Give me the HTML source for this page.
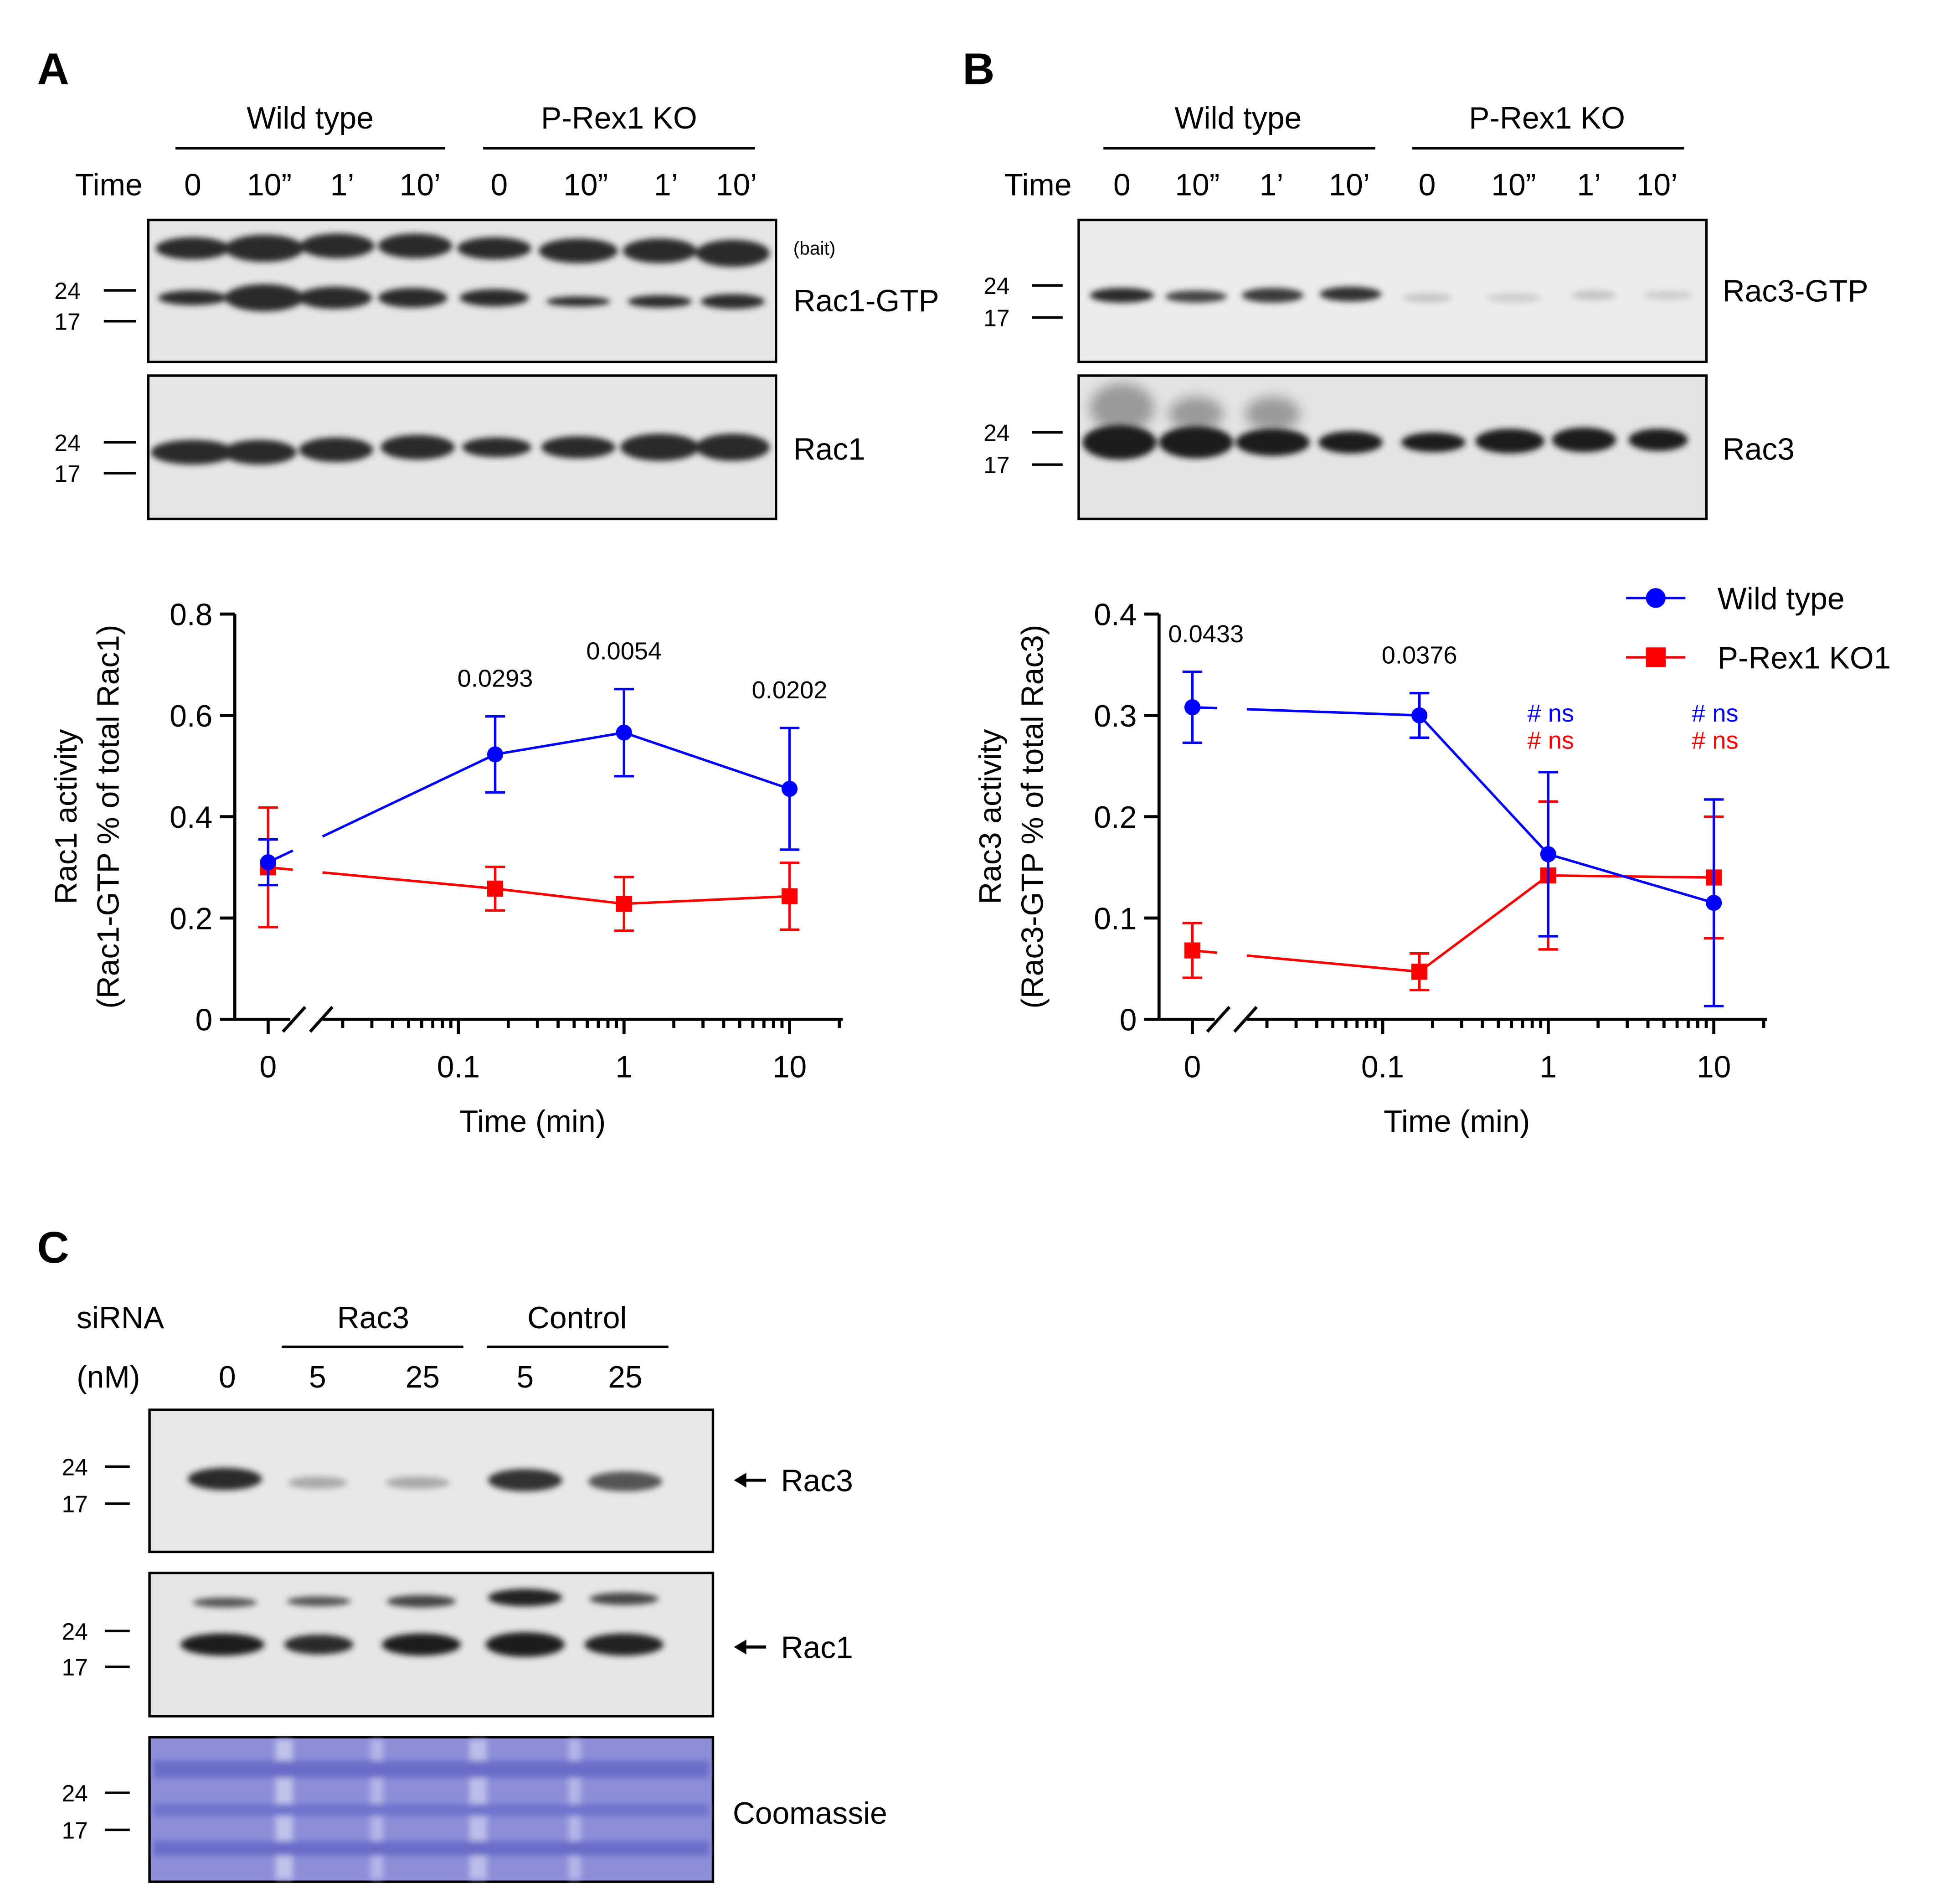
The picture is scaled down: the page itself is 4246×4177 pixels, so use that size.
<!DOCTYPE html>
<html><head><meta charset="utf-8"><style>
html,body{margin:0;padding:0;background:#fff}
svg{display:block}
text{font-family:"Liberation Sans",sans-serif;fill:#000}
</style></head><body>
<svg id="fig" width="4246" height="4177" viewBox="0 0 1566 1541" preserveAspectRatio="none" xmlns="http://www.w3.org/2000/svg">
<defs>
<filter id="bl" x="-20%" y="-100%" width="140%" height="300%"><feGaussianBlur stdDeviation="2.5"/></filter>
<filter id="bl2" x="-20%" y="-100%" width="140%" height="300%"><feGaussianBlur stdDeviation="5"/></filter>
</defs>
<g>
<text x="30" y="68" font-size="36" font-weight="bold">A</text>
<text x="251" y="104" font-size="25" text-anchor="middle">Wild type</text>
<line x1="142" y1="120" x2="360" y2="120" stroke="#000" stroke-width="2"/>
<text x="501" y="104" font-size="25" text-anchor="middle">P-Rex1 KO</text>
<line x1="391" y1="120" x2="611" y2="120" stroke="#000" stroke-width="2"/>
<g font-size="25" text-anchor="middle">
<text x="88" y="158">Time</text><text x="156" y="158">0</text><text x="218" y="158">10”</text><text x="277" y="158">1’</text><text x="340" y="158">10’</text><text x="404" y="158">0</text><text x="474" y="158">10”</text><text x="539" y="158">1’</text><text x="596" y="158">10’</text></g>
<rect x="120" y="178" width="508" height="115" fill="#e6e6e6" stroke="#000" stroke-width="2"/>
<g filter="url(#bl)" fill="#2a2a2a">
<ellipse cx="156" cy="201" rx="30" ry="9"/><ellipse cx="214" cy="201" rx="32" ry="11"/><ellipse cx="273" cy="199" rx="30" ry="10"/><ellipse cx="336" cy="199" rx="30" ry="10"/><ellipse cx="400" cy="201" rx="30" ry="9"/><ellipse cx="468" cy="203" rx="32" ry="10"/><ellipse cx="534" cy="203" rx="30" ry="10"/><ellipse cx="593" cy="205" rx="30" ry="11"/>
<ellipse cx="156" cy="241" rx="28" ry="6"/><ellipse cx="214" cy="241" rx="32" ry="11"/><ellipse cx="271" cy="241" rx="30" ry="9"/><ellipse cx="334" cy="241" rx="28" ry="8"/><ellipse cx="400" cy="241" rx="28" ry="7"/><ellipse cx="468" cy="244" rx="26" ry="4"/><ellipse cx="534" cy="244" rx="26" ry="5"/><ellipse cx="593" cy="244" rx="26" ry="6"/></g>
<rect x="120" y="304" width="508" height="116" fill="#e6e6e6" stroke="#000" stroke-width="2"/>
<g filter="url(#bl)" fill="#2a2a2a">
<ellipse cx="156" cy="366" rx="34" ry="10"/><ellipse cx="210" cy="366" rx="30" ry="10"/><ellipse cx="272" cy="364" rx="30" ry="10"/><ellipse cx="338" cy="362" rx="30" ry="10"/><ellipse cx="402" cy="362" rx="28" ry="8"/><ellipse cx="468" cy="362" rx="30" ry="9"/><ellipse cx="534" cy="362" rx="32" ry="11"/><ellipse cx="593" cy="362" rx="30" ry="11"/></g>
<g font-size="19"><text x="44" y="242">24</text><text x="44" y="267">17</text><text x="44" y="365">24</text><text x="44" y="390">17</text></g>
<g stroke="#000" stroke-width="2"><line x1="84" y1="235" x2="110" y2="235"/><line x1="84" y1="260" x2="110" y2="260"/><line x1="84" y1="358" x2="110" y2="358"/><line x1="84" y1="383" x2="110" y2="383"/></g>
<text x="642" y="206" font-size="15">(bait)</text>
<text x="642" y="252" font-size="25">Rac1-GTP</text>
<text x="642" y="372" font-size="25">Rac1</text>
</g>
<g>
<text x="779" y="68" font-size="36" font-weight="bold">B</text>
<text x="1002" y="104" font-size="25" text-anchor="middle">Wild type</text>
<line x1="893" y1="120" x2="1113" y2="120" stroke="#000" stroke-width="2"/>
<text x="1252" y="104" font-size="25" text-anchor="middle">P-Rex1 KO</text>
<line x1="1143" y1="120" x2="1363" y2="120" stroke="#000" stroke-width="2"/>
<g font-size="25" text-anchor="middle">
<text x="840" y="158">Time</text><text x="908" y="158">0</text><text x="969" y="158">10”</text><text x="1029" y="158">1’</text><text x="1092" y="158">10’</text><text x="1155" y="158">0</text><text x="1225" y="158">10”</text><text x="1286" y="158">1’</text><text x="1341" y="158">10’</text></g>
<rect x="873" y="178" width="508" height="115" fill="#ececec" stroke="#000" stroke-width="2"/>
<g filter="url(#bl)">
<ellipse cx="908" cy="239" rx="26" ry="6" fill="#2a2a2a"/><ellipse cx="968" cy="240" rx="25" ry="5" fill="#444"/><ellipse cx="1030" cy="239" rx="25" ry="6" fill="#3a3a3a"/><ellipse cx="1093" cy="238" rx="25" ry="6" fill="#333"/>
<ellipse cx="1155" cy="241" rx="20" ry="4" fill="#c8c8c8"/><ellipse cx="1225" cy="241" rx="22" ry="4" fill="#cfcfcf"/><ellipse cx="1290" cy="239" rx="18" ry="4" fill="#c4c4c4"/><ellipse cx="1350" cy="239" rx="20" ry="4" fill="#cfcfcf"/></g>
<rect x="873" y="304" width="508" height="116" fill="#e4e4e4" stroke="#000" stroke-width="2"/>
<g filter="url(#bl2)" fill="#9a9a9a"><ellipse cx="908" cy="330" rx="26" ry="20"/><ellipse cx="968" cy="335" rx="22" ry="14"/><ellipse cx="1030" cy="335" rx="22" ry="14"/></g>
<g filter="url(#bl)" fill="#1e1e1e">
<ellipse cx="906" cy="358" rx="30" ry="14"/><ellipse cx="968" cy="358" rx="30" ry="13"/><ellipse cx="1030" cy="358" rx="30" ry="11"/><ellipse cx="1093" cy="358" rx="26" ry="9"/><ellipse cx="1160" cy="358" rx="26" ry="8"/><ellipse cx="1222" cy="357" rx="28" ry="10"/><ellipse cx="1282" cy="356" rx="26" ry="10"/><ellipse cx="1342" cy="356" rx="24" ry="9"/></g>
<g font-size="19"><text x="796" y="238">24</text><text x="796" y="264">17</text><text x="796" y="357">24</text><text x="796" y="383">17</text></g>
<g stroke="#000" stroke-width="2"><line x1="835" y1="231" x2="860" y2="231"/><line x1="835" y1="257" x2="860" y2="257"/><line x1="835" y1="350" x2="860" y2="350"/><line x1="835" y1="376" x2="860" y2="376"/></g>
<text x="1394" y="244" font-size="25">Rac3-GTP</text>
<text x="1394" y="372" font-size="25">Rac3</text>
</g>
<g>
<text x="30" y="1022" font-size="36" font-weight="bold">C</text>
<text x="62" y="1075" font-size="25">siRNA</text>
<text x="62" y="1123" font-size="25">(nM)</text>
<text x="302" y="1075" font-size="25" text-anchor="middle">Rac3</text>
<line x1="228" y1="1090" x2="375" y2="1090" stroke="#000" stroke-width="2"/>
<text x="467" y="1075" font-size="25" text-anchor="middle">Control</text>
<line x1="394" y1="1090" x2="541" y2="1090" stroke="#000" stroke-width="2"/>
<g font-size="25" text-anchor="middle"><text x="184" y="1123">0</text><text x="257" y="1123">5</text><text x="342" y="1123">25</text><text x="425" y="1123">5</text><text x="506" y="1123">25</text></g>
<rect x="121" y="1141" width="456" height="115" fill="#e8e8e8" stroke="#000" stroke-width="2"/>
<g filter="url(#bl)"><ellipse cx="182" cy="1197" rx="30" ry="9" fill="#2a2a2a"/><ellipse cx="257" cy="1200" rx="24" ry="5" fill="#aaa"/><ellipse cx="338" cy="1200" rx="26" ry="5" fill="#aaa"/><ellipse cx="425" cy="1198" rx="30" ry="9" fill="#333"/><ellipse cx="506" cy="1199" rx="30" ry="8" fill="#555"/></g>
<rect x="121" y="1273" width="456" height="116" fill="#e6e6e6" stroke="#000" stroke-width="2"/>
<g filter="url(#bl)"><ellipse cx="182" cy="1297" rx="26" ry="4" fill="#555"/><ellipse cx="258" cy="1296" rx="26" ry="4" fill="#555"/><ellipse cx="341" cy="1296" rx="28" ry="5" fill="#444"/><ellipse cx="425" cy="1293" rx="30" ry="7" fill="#222"/><ellipse cx="505" cy="1294" rx="28" ry="5" fill="#444"/>
<ellipse cx="180" cy="1331" rx="34" ry="9" fill="#1e1e1e"/><ellipse cx="258" cy="1331" rx="28" ry="8" fill="#2a2a2a"/><ellipse cx="341" cy="1331" rx="32" ry="9" fill="#1e1e1e"/><ellipse cx="425" cy="1331" rx="32" ry="10" fill="#1a1a1a"/><ellipse cx="505" cy="1331" rx="32" ry="9" fill="#222"/></g>
<rect x="121" y="1406" width="456" height="117" fill="#8c8fd8" stroke="#000" stroke-width="2"/>
<g filter="url(#bl)"><rect x="223" y="1408" width="14" height="113" fill="#c0c2ec"/><rect x="300" y="1408" width="10" height="113" fill="#b4b6e8"/><rect x="380" y="1408" width="14" height="113" fill="#bcbeea"/><rect x="460" y="1408" width="10" height="113" fill="#b4b6e8"/>
<rect x="124" y="1425" width="450" height="14" fill="#6a6dc8"/><rect x="124" y="1460" width="450" height="10" fill="#7073cc"/><rect x="124" y="1490" width="450" height="12" fill="#6a6dc8"/></g>
<g font-size="19"><text x="50" y="1194">24</text><text x="50" y="1224">17</text><text x="50" y="1327">24</text><text x="50" y="1356">17</text><text x="50" y="1458">24</text><text x="50" y="1488">17</text></g>
<g stroke="#000" stroke-width="2"><line x1="85" y1="1187" x2="105" y2="1187"/><line x1="85" y1="1217" x2="105" y2="1217"/><line x1="85" y1="1320" x2="105" y2="1320"/><line x1="85" y1="1349" x2="105" y2="1349"/><line x1="85" y1="1451" x2="105" y2="1451"/><line x1="85" y1="1481" x2="105" y2="1481"/></g>
<g><line x1="600" y1="1198" x2="620" y2="1198" stroke="#000" stroke-width="2.5"/><path d="M594,1198 L604,1192 L604,1204 Z" fill="#000"/></g>
<text x="632" y="1207" font-size="25">Rac3</text>
<g><line x1="600" y1="1333" x2="620" y2="1333" stroke="#000" stroke-width="2.5"/><path d="M594,1333 L604,1327 L604,1339 Z" fill="#000"/></g>
<text x="632" y="1342" font-size="25">Rac1</text>
<text x="593" y="1476" font-size="25">Coomassie</text>
</g>
<g id="chartA"></g>
<g id="chartB"></g>
</svg>
<script>
const timesMin = [0, 0.1667, 1, 10];
const aWT = [0.31, 0.523, 0.566, 0.455];
const aWTerr = [0.045, 0.075, 0.086, 0.12];
const aKO = [0.30, 0.258, 0.228, 0.243];
const aKOerr = [0.118, 0.043, 0.053, 0.066];
const aYTicks = [0, 0.2, 0.4, 0.6, 0.8];
const aPvals = ["", "0.0293", "0.0054", "0.0202"];
const bWT = [0.308, 0.30, 0.163, 0.115];
const bWTerr = [0.035, 0.022, 0.081, 0.102];
const bKO = [0.068, 0.047, 0.142, 0.14];
const bKOerr = [0.027, 0.018, 0.073, 0.06];
const bYTicks = [0, 0.1, 0.2, 0.3, 0.4];
const bPvals = ["0.0433", "0.0376", "", ""];
const xTickLabels = ["0", "0.1", "1", "10"];
const xTickVals = [0, 0.1, 1, 10];
const NS = "http://www.w3.org/2000/svg";
function mk(parent, tag, attrs, txt) {
  const e = document.createElementNS(NS, tag);
  for (const k in attrs) e.setAttribute(k, attrs[k]);
  if (txt !== undefined) e.textContent = txt;
  parent.appendChild(e); return e;
}
function chart(g, o) {
  const X0 = o.ax, yTop = 497, yBot = 825, ymax = o.yt[o.yt.length - 1];
  const ys = v => yBot - v / ymax * (yBot - yTop);
  const xs = t => t === 0 ? o.zx : o.x01 + Math.log10(t / 0.1) * 134;
  mk(g, 'line', {x1: X0, y1: yTop, x2: X0, y2: yBot, stroke: '#000', 'stroke-width': 2.5});
  mk(g, 'line', {x1: X0, y1: yBot, x2: o.ax2, y2: yBot, stroke: '#000', 'stroke-width': 2.5});
  o.yt.forEach(v => {
    mk(g, 'line', {x1: X0 - 12, y1: ys(v), x2: X0, y2: ys(v), stroke: '#000', 'stroke-width': 2.5});
    const t = mk(g, 'text', {x: X0 - 18, y: ys(v) + 9, 'font-size': 25, 'text-anchor': 'end'}, String(v));
    
    
  });
  for (let d = -2; d <= 1; d++) for (let m = 1; m < 10; m++) {
    const t = m * Math.pow(10, d); const x = xs(t);
    if (x < o.zx + 55 || x > o.ax2) continue;
    const len = m === 1 ? 12 : 7;
    mk(g, 'line', {x1: x, y1: yBot, x2: x, y2: yBot + len, stroke: '#000', 'stroke-width': 2.5});
  }
  mk(g, 'line', {x1: o.zx, y1: yBot, x2: o.zx, y2: yBot + 12, stroke: '#000', 'stroke-width': 2.5});
  mk(g, 'rect', {x: o.zx + 18, y: yBot - 3, width: 26, height: 6, fill: '#fff'});
  mk(g, 'line', {x1: o.zx + 12, y1: yBot + 10, x2: o.zx + 30, y2: yBot - 10, stroke: '#000', 'stroke-width': 2.5});
  mk(g, 'line', {x1: o.zx + 34, y1: yBot + 10, x2: o.zx + 52, y2: yBot - 10, stroke: '#000', 'stroke-width': 2.5});
  xTickVals.forEach((v, i) => {
    const t = mk(g, 'text', {x: xs(v), y: 872, 'font-size': 25, 'text-anchor': 'middle'}, xTickLabels[i]);
    
    
  });
  const xt = mk(g, 'text', {x: o.xtx, y: 916, 'font-size': 25, 'text-anchor': 'middle'}, 'Time (min)');
  
  
  const yt = mk(g, 'text', {transform: `translate(${X0 - 128},661) rotate(-90)`, 'font-size': 25, 'text-anchor': 'middle'});
  
  
  mk(yt, 'tspan', {x: 0, y: 0}, o.yl1);
  mk(yt, 'tspan', {x: 0, y: 34}, o.yl2);
  const series = [[o.ko, o.koe, 'red', 'sq'], [o.wt, o.wte, 'blue', 'ci']];
  series.forEach(([vals, errs, col, shp]) => {
    const pts = timesMin.map((t, i) => [xs(t), ys(vals[i])]);
    const [ax, ay] = pts[0], [bx, by] = pts[1];
    const f1 = (o.zx + 20 - ax) / (bx - ax), f2 = (o.zx + 44 - ax) / (bx - ax);
    const s1 = mk(g, 'line', {x1: ax, y1: ay, x2: ax + (bx - ax) * f1, y2: ay + (by - ay) * f1, stroke: col, 'stroke-width': 2});
    
    
    const p = mk(g, 'polyline', {points: [[ax + (bx - ax) * f2, ay + (by - ay) * f2]].concat(pts.slice(1)).map(q => q.join(',')).join(' '), fill: 'none', stroke: col, 'stroke-width': 2});
    
    
    pts.forEach(([x, y], i) => {
      const y1 = ys(vals[i] + errs[i]), y2 = ys(vals[i] - errs[i]);
      const eb = mk(g, 'path', {d: `M${x},${y1}V${y2}M${x - 8},${y1}H${x + 8}M${x - 8},${y2}H${x + 8}`, stroke: col, 'stroke-width': 2, fill: 'none'});
      
      
      const m = shp === 'ci' ? mk(g, 'circle', {cx: x, cy: y, r: 6.5, fill: col}) : mk(g, 'rect', {x: x - 6.5, y: y - 6.5, width: 13, height: 13, fill: col});
      
      
    });
  });
  o.pv.forEach((s, i) => {
    if (!s) return;
    const top = ys(o.wt[i] + o.wte[i]);
    const t = mk(g, 'text', {x: xs(timesMin[i]) + (i === 0 ? 11 : 0), y: top - 24, 'font-size': 20, 'text-anchor': 'middle'}, s);
    
    
  });
}
chart(document.getElementById('chartA'), {ax: 190, ax2: 682, zx: 217, x01: 371, xtx: 431, yt: aYTicks, wt: aWT, wte: aWTerr, ko: aKO, koe: aKOerr, pv: aPvals, yl1: 'Rac1 activity', yl2: '(Rac1-GTP % of total Rac1)'});
chart(document.getElementById('chartB'), {ax: 938, ax2: 1430, zx: 965, x01: 1119, xtx: 1179, yt: bYTicks, wt: bWT, wte: bWTerr, ko: bKO, koe: bKOerr, pv: bPvals, yl1: 'Rac3 activity', yl2: '(Rac3-GTP % of total Rac3)'});
const gB = document.getElementById('chartB');
[1255, 1388].forEach(x => {
  const a = mk(gB, 'text', {x: x, y: 584, 'font-size': 20, 'text-anchor': 'middle', style: 'fill:blue'}, '# ns');
  
  
  const b = mk(gB, 'text', {x: x, y: 606, 'font-size': 20, 'text-anchor': 'middle', style: 'fill:red'}, '# ns');
  
  
});
const lg = mk(gB, 'g', {});


mk(lg, 'line', {x1: 1316, y1: 484, x2: 1364, y2: 484, stroke: 'blue', 'stroke-width': 2});
mk(lg, 'circle', {cx: 1340, cy: 484, r: 8, fill: 'blue'});
mk(lg, 'text', {x: 1390, y: 493, 'font-size': 25}, 'Wild type');
mk(lg, 'line', {x1: 1316, y1: 532, x2: 1364, y2: 532, stroke: 'red', 'stroke-width': 2});
mk(lg, 'rect', {x: 1332, y: 524, width: 16, height: 16, fill: 'red'});
mk(lg, 'text', {x: 1390, y: 541, 'font-size': 25}, 'P-Rex1 KO1');
</script>
</body></html>
